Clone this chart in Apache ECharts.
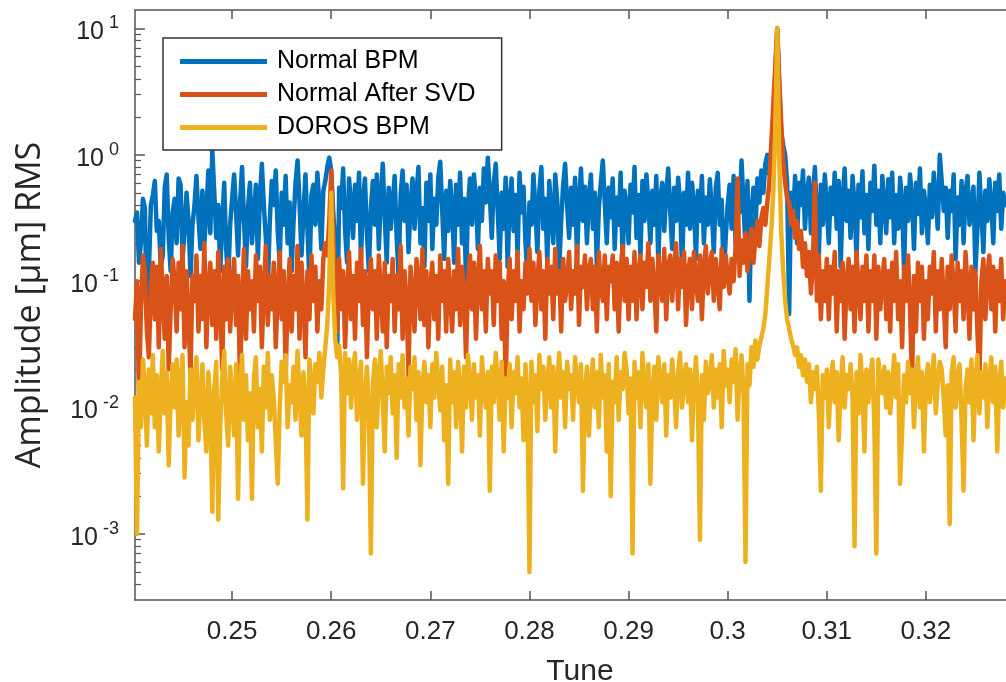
<!DOCTYPE html>
<html>
<head>
<meta charset="utf-8">
<script src="https://cdn.jsdelivr.net/npm/echarts@6/dist/echarts.min.js"></script>
<style>html,body{margin:0;padding:0;background:#fff;}#chart{width:1006px;height:682px;}</style>
</head>
<body>
<div id="chart"></div>
<script>
// Tune grid (uniform FFT bins)
const tuneStart = 0.2402;
const tuneStep = 0.0002;

// Series values (amplitude, um RMS)
const normalBPM = [
.30,.35,.14,.20,.45,.38,.05,.12,.40,.48,
.62,.25,.30,.13,.16,.55,.70,.22,.12,.35,
.45,.20,.65,.58,.15,.25,.50,.30,.11,.28,
.40,.68,.32,.18,.52,.20,.35,.75,.24,1.1,
.50,.22,.40,.12,.30,.60,.18,.10,.28,.45,
.70,.35,.16,.42,.80,.30,.13,.38,.60,.20,
.33,.58,.15,.45,.85,.40,.22,.09,.30,.62,
.40,.75,.25,.14,.50,.28,.68,.20,.42,.12,
.30,.60,.90,.42,.16,.35,.70,.26,.10,.48,
.58,.28,.72,.40,.18,.52,.62,.80,.95,.75,
.35,.20,.026,.55,.38,.78,.25,.14,.65,.40,
.22,.58,.30,.72,.15,.44,.65,.24,.12,.38,
.62,.28,.70,.18,.45,.85,.32,.14,.55,.26,
.42,.68,.22,.11,.48,.75,.30,.58,.17,.40,
.65,.26,.50,.80,.20,.38,.13,.60,.30,.70,
.18,.45,.28,.66,.88,.36,.15,.52,.25,.62,
.38,.14,.58,.28,.72,.20,.45,.10,.40,.65,
.28,.70,.44,.18,.55,.30,.78,.42,.95,.48,
.22,.60,.85,.36,.15,.50,.26,.66,.13,.44,
.65,.25,.48,.16,.72,.35,.56,.20,.11,.42,
.28,.70,.38,.17,.52,.80,.26,.45,.14,.62,
.35,.20,.70,.44,.12,.30,.58,.85,.40,.22,
.55,.28,.66,.15,.42,.78,.30,.56,.20,.46,
.70,.26,.50,.13,.38,.60,.90,.42,.20,.55,
.32,.65,.18,.46,.28,.72,.14,.52,.40,.20,
.58,.35,.80,.22,.48,.16,.62,.30,.70,.42,
.20,.52,.28,.68,.14,.44,.60,.25,.50,.78,
.36,.18,.55,.30,.66,.42,.12,.50,.28,.72,
.26,.60,.40,.15,.52,.30,.68,.20,.46,.28,
.64,.36,.17,.55,.72,.28,.44,.10,.22,.40,
.58,.26,.68,.20,.48,.35,.90,.40,.18,.62,
.07,.35,.55,.25,.65,.42,.75,.50,.85,1.0,
.70,1.1,1.8,4.0,10,3.5,1.5,1.2,1.0,.60,
.055,.50,.30,.68,.20,.60,.40,.75,.26,.50,
.66,.24,.46,.80,.32,.16,.58,.28,.70,.40,
.20,.55,.34,.72,.26,.62,.13,.44,.78,.30,
.52,.22,.68,.40,.15,.58,.32,.74,.24,.48,
.18,.60,.36,.82,.28,.52,.20,.68,.40,.24,
.64,.32,.72,.20,.48,.26,.66,.40,.12,.55,
.30,.70,.44,.18,.60,.34,.78,.24,.52,.38,
.20,.58,.32,.72,.44,.26,1.0,.62,.36,.55,
.22,.52,.36,.70,.15,.46,.28,.62,.20,.50,
.68,.28,.42,.56,.12,.26,.72,.36,.17,.52,
.30,.64,.40,.20,.60,.36,.70,.26,.50,.40
];

const normalAfterSVD = [
.05,.10,.012,.06,.16,.12,.04,.025,.09,.14,
.05,.13,.03,.18,.08,.035,.11,.02,.06,.15,
.10,.04,.14,.06,.19,.03,.12,.05,.018,.11,
.07,.16,.04,.11,.05,.20,.03,.09,.14,.045,
.12,.035,.17,.07,.02,.13,.05,.15,.04,.09,
.15,.045,.11,.015,.07,.18,.035,.12,.06,.10,
.04,.16,.07,.13,.03,.09,.19,.045,.11,.06,
.14,.03,.08,.17,.05,.12,.018,.07,.15,.04,
.11,.06,.19,.035,.14,.07,.025,.12,.05,.16,
.07,.13,.04,.10,.06,.15,.20,.16,.30,.75,
.25,.09,.04,.15,.06,.12,.03,.08,.17,.05,
.11,.035,.14,.07,.18,.045,.12,.025,.09,.15,
.06,.12,.035,.16,.08,.04,.14,.03,.11,.07,
.15,.04,.11,.06,.19,.035,.12,.07,.018,.13,
.08,.04,.15,.10,.05,.18,.045,.12,.03,.09,
.14,.05,.11,.035,.16,.07,.12,.04,.15,.08,
.04,.12,.06,.18,.045,.13,.08,.025,.10,.16,
.06,.14,.035,.10,.19,.06,.12,.04,.15,.08,
.12,.045,.16,.07,.14,.035,.10,.015,.08,.15,
.05,.12,.07,.17,.04,.10,.06,.14,.08,.18,
.07,.14,.045,.10,.17,.06,.12,.035,.15,.08,
.13,.05,.18,.08,.12,.04,.15,.07,.10,.17,
.06,.12,.08,.19,.045,.13,.09,.16,.06,.12,
.15,.06,.13,.04,.17,.09,.07,.16,.05,.13,
.10,.16,.06,.14,.04,.12,.19,.07,.15,.05,
.13,.07,.17,.05,.12,.16,.06,.14,.09,.20,
.07,.15,.09,.04,.16,.11,.07,.18,.05,.13,
.16,.07,.13,.20,.06,.15,.09,.17,.045,.12,
.15,.06,.17,.10,.07,.16,.05,.13,.19,.08,
.13,.17,.07,.15,.10,.06,.18,.09,.16,.11,
.08,.15,.10,.19,.65,.11,.21,.14,.24,.12,
.17,.26,.14,.22,.30,.19,.32,.38,.28,.42,
.60,1.2,2.5,5.0,10,4.0,1.8,.90,.60,.45,
.42,.28,.36,.22,.30,.18,.25,.13,.20,.11,
.17,.08,.14,.60,.07,.16,.05,.12,.07,.15,
.05,.13,.08,.17,.04,.12,.07,.14,.035,.10,
.15,.06,.13,.04,.17,.09,.05,.13,.07,.16,
.04,.12,.07,.16,.035,.13,.06,.10,.15,.05,
.12,.04,.14,.07,.17,.05,.10,.03,.13,.07,
.16,.06,.016,.11,.04,.14,.07,.13,.035,.10,
.05,.13,.08,.17,.04,.12,.06,.15,.07,.03,
.13,.06,.16,.09,.04,.14,.07,.12,.05,.17,
.09,.035,.13,.06,.12,.04,.016,.10,.15,.05,
.11,.16,.06,.13,.04,.12,.07,.15,.05,.10
];

const dorosBPM = [
.012,.0010,.016,.007,.024,.014,.005,.020,.009,.026,
.007,.018,.0045,.013,.028,.009,.019,.0035,.012,.022,
.010,.024,.006,.016,.026,.0028,.011,.005,.020,.008,
.017,.025,.0055,.012,.022,.008,.0045,.019,.011,.0015,
.014,.023,.0013,.007,.017,.028,.009,.005,.021,.012,
.006,.022,.0019,.015,.026,.008,.018,.0055,.013,.0019,
.017,.025,.007,.014,.0045,.021,.010,.027,.008,.018,
.012,.0055,.0025,.010,.023,.016,.026,.007,.015,.011,
.021,.008,.028,.013,.006,.019,.011,.0013,.024,.015,
.009,.022,.016,.027,.012,.020,.030,.045,.10,.50,
.08,.035,.025,.031,.018,.0023,.027,.013,.024,.010,
.019,.027,.008,.016,.023,.0025,.012,.021,.009,.0007,
.015,.024,.007,.018,.028,.011,.0045,.021,.013,.025,
.009,.018,.004,.022,.012,.026,.010,.017,.006,.021,
.014,.025,.008,.019,.0035,.015,.023,.011,.018,.007,
.022,.012,.027,.016,.0095,.021,.0055,.015,.0025,.024,
.011,.019,.007,.023,.014,.0045,.021,.010,.026,.016,
.008,.022,.012,.018,.006,.025,.015,.010,.019,.0022,
.021,.011,.027,.016,.008,.023,.0045,.017,.012,.022,
.007,.019,.013,.025,.010,.017,.0055,.022,.012,.0005,
.023,.011,.018,.0065,.026,.014,.021,.008,.016,.025,
.010,.021,.0045,.015,.027,.012,.019,.007,.023,.014,
.018,.008,.025,.016,.011,.022,.0022,.013,.021,.006,
.015,.024,.010,.019,.007,.026,.012,.018,.0045,.022,
.0020,.016,.011,.025,.008,.019,.014,.027,.020,.009,
.017,.0007,.023,.012,.019,.007,.027,.015,.010,.022,
.0025,.013,.021,.008,.025,.016,.011,.022,.006,.018,
.012,.024,.015,.007,.019,.027,.010,.017,.022,.011,
.020,.0055,.015,.025,.011,.0009,.018,.008,.023,.013,
.016,.026,.010,.020,.012,.022,.007,.028,.015,.020,
.011,.024,.016,.029,.008,.019,.026,.013,.0006,.022,
.015,.030,.021,.034,.024,.031,.036,.042,.055,.09,
.15,.25,.50,1.5,10,1.0,.25,.12,.07,.05,
.042,.035,.031,.026,.030,.021,.026,.018,.024,.016,
.022,.011,.019,.014,.021,.009,.0022,.018,.012,.020,
.007,.016,.023,.011,.019,.0055,.015,.025,.010,.018,
.014,.022,.012,.0008,.019,.009,.026,.015,.0045,.020,
.011,.018,.024,.007,.0007,.024,.016,.013,.021,.010,
.019,.009,.015,.026,.012,.022,.0025,.0065,.018,.011,
.023,.013,.020,.007,.016,.025,.010,.019,.0045,.015,
.022,.011,.017,.026,.009,.016,.023,.020,.012,.006,
.015,.0012,.019,.025,.010,.017,.022,.008,.0022,.014,
.020,.011,.024,.0055,.016,.026,.009,.019,.012,.022,
.007,.017,.025,.011,.021,.0045,.015,.023,.010,.017
];

const seriesNames = ['Normal BPM', 'Normal After SVD', 'DOROS BPM'];
const seriesColors = ['#0072BD', '#D95319', '#EDB120'];

// Axis ticks and labels
const xTicks = [0.25, 0.26, 0.27, 0.28, 0.29, 0.30, 0.31, 0.32, 0.33];
const xLabels = [0.25, 0.26, 0.27, 0.28, 0.29, 0.30, 0.31, 0.32];
const yTicks = [0.001, 0.01, 0.1, 1, 10];
const yTickExponents = ['-3', '-2', '-1', '0', '1'];
const yMinorTicks = [
0.0004,0.0005,0.0006,0.0007,0.0008,0.0009,
0.002,0.003,0.004,0.005,0.006,0.007,0.008,0.009,
0.02,0.03,0.04,0.05,0.06,0.07,0.08,0.09,
0.2,0.3,0.4,0.5,0.6,0.7,0.8,0.9,
2,3,4,5,6,7,8,9
];

const tune = normalBPM.map((_, i) => +(tuneStart + i * tuneStep).toFixed(4));
const allSeries = [normalBPM, normalAfterSVD, dorosBPM];

const axisColor = '#555';
const chart = echarts.init(document.getElementById('chart'), null, {renderer: 'canvas'});
chart.setOption({
  animation: false,
  backgroundColor: '#fff',
  grid: {left: 135, right: -19, top: 10, bottom: 82, containLabel: false, outerBoundsMode: 'none'},
  legend: {
    orient: 'vertical', left: 163, top: 38,
    padding: [11, 26, 10, 17],
    itemWidth: 87, itemHeight: 5, itemGap: 8,
    icon: 'rect', selectedMode: false,
    borderColor: '#333', borderWidth: 1.5, backgroundColor: '#fff',
    textStyle: {fontFamily: 'Liberation Sans', fontSize: 25, color: '#000', lineHeight: 25, padding: [0, 0, 0, 5]},
    data: seriesNames
  },
  xAxis: [{
    type: 'value', min: tuneStart, max: 0.33, position: 'bottom',
    axisLine: {show: true, lineStyle: {color: axisColor, width: 1.5}},
    axisTick: {show: true, inside: true, length: 9, customValues: xTicks, lineStyle: {color: axisColor, width: 1.5}},
    axisLabel: {customValues: xLabels, fontFamily: 'Liberation Sans', fontSize: 26, color: '#262626', margin: 19},
    splitLine: {show: false},
    name: 'Tune', nameLocation: 'middle', nameGap: 57,
    nameTextStyle: {fontFamily: 'Liberation Sans', fontSize: 30, color: '#262626'}
  }, {
    type: 'value', min: tuneStart, max: 0.33, position: 'top',
    axisLine: {show: true, lineStyle: {color: axisColor, width: 1.5}},
    axisTick: {show: true, inside: true, length: 9, customValues: xTicks, lineStyle: {color: axisColor, width: 1.5}},
    axisLabel: {show: false},
    splitLine: {show: false}
  }],
  yAxis: [{
    type: 'log', logBase: 10, min: 0.0003, max: 14, position: 'left',
    axisLine: {show: true, lineStyle: {color: axisColor, width: 1.5}},
    axisTick: {show: true, inside: true, length: 10, customValues: yTicks, lineStyle: {color: axisColor, width: 1.5}},
    axisLabel: {
      customValues: yTicks, margin: 16,
      formatter: function (v) {
        const idx = yTicks.findIndex(t => Math.abs(Math.log10(t) - Math.log10(v)) < 1e-6);
        return '{b|10}{s|' + (idx >= 0 ? yTickExponents[idx] : '') + '}';
      },
      rich: {
        b: {fontFamily: 'Liberation Sans', fontSize: 25, color: '#262626', padding: [8, 0, 0, 0]},
        s: {fontFamily: 'Liberation Sans', fontSize: 18, color: '#262626', padding: [0, 0, 10, 5]}
      }
    },
    splitLine: {show: false},
    name: 'Amplitude [µm] RMS', nameLocation: 'middle', nameGap: 88, nameRotate: 90,
    nameTextStyle: {fontFamily: 'Open Sans', fontSize: 34, color: '#262626'}
  }, {
    type: 'log', logBase: 10, min: 0.0003, max: 14, position: 'left',
    axisLine: {show: false},
    axisTick: {show: true, inside: true, length: 6, customValues: yMinorTicks, lineStyle: {color: axisColor, width: 1.2}},
    axisLabel: {show: false},
    splitLine: {show: false}
  }],
  series: allSeries.map((arr, k) => ({
    name: seriesNames[k], type: 'line', xAxisIndex: 0, yAxisIndex: 0,
    data: tune.map((t, i) => [t, arr[i]]),
    showSymbol: false, symbol: 'none', silent: true,
    lineStyle: {width: 4.5, color: seriesColors[k], cap: 'round', join: 'round'},
    itemStyle: {color: seriesColors[k]},
    z: 2 + k
  }))
});
</script>
</body>
</html>
